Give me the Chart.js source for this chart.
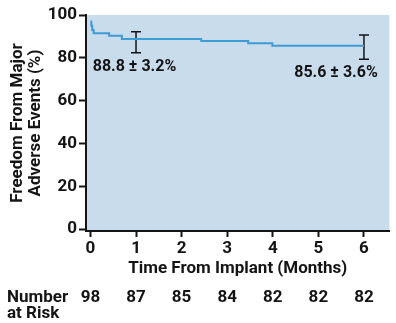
<!DOCTYPE html>
<html>
<head>
<meta charset="utf-8">
<script src="https://cdn.jsdelivr.net/npm/chart.js@4"></script>
<style>
  body { margin: 0; background: #fff; }
  #wrap { width: 396px; height: 323px; position: relative; }
</style>
</head>
<body>
<div id="wrap"><canvas id="km-chart"></canvas></div>
<script>
// Kaplan-Meier curve
const kmTime = [0, 0.02, 0.04, 0.07, 0.41, 0.69, 2.43, 3.46, 3.99, 6]
const kmFreedom = [97, 95, 93, 91.5, 90.3, 88.8, 87.8, 86.8, 85.6, 85.6]

// error bars (as drawn) at 1 and 6 months
const barTime = [1, 6]
const barLow = [82.4, 79.3]
const barHigh = [92.2, 90.7]

// estimates printed next to the bars
const estText = ['88.8 ± 3.2%', '85.6 ± 3.6%']
const estTime = [0.05, 4.47]
const estValue = [75.8, 72.7]

const xTicks = [0, 1, 2, 3, 4, 5, 6]
const yTicks = [0, 20, 40, 60, 80, 100]

const riskTime = [0, 1, 2, 3, 4, 5, 6]
const riskCount = [98, 87, 85, 84, 82, 82, 82]

const FONT = 'Roboto, "Liberation Sans", sans-serif'
const INK = '#141414'

var datasets = [{
  data: kmTime.map((t, i) => ({ x: t, y: kmFreedom[i] })),
  borderColor: '#3f9bd6',
  borderWidth: 2,
  stepped: true,
  pointRadius: 0
}]
barTime.forEach(function (t, i) {
  datasets.push({
    data: [{ x: t, y: barLow[i] }, { x: t, y: barHigh[i] }],
    borderColor: INK,
    borderWidth: 1.5,
    pointStyle: 'line',
    pointRadius: 5,
    pointBorderWidth: 1.5,
    pointBorderColor: INK
  })
})

// light blue plot background + text labels and risk table
const extras = {
  id: 'extras',
  beforeDraw(chart) {
    const a = chart.chartArea
    const c = chart.ctx
    c.save()
    c.fillStyle = '#c9dcec'
    c.fillRect(a.left, a.top, a.right - a.left, a.bottom - a.top)
    c.restore()
  },
  afterDraw(chart) {
    const c = chart.ctx
    const xs = chart.scales.x
    const ys = chart.scales.y
    c.save()
    c.fillStyle = INK
    c.font = 'bold 16px ' + FONT
    c.textAlign = 'left'
    c.textBaseline = 'middle'
    estText.forEach(function (txt, i) {
      c.fillText(txt, xs.getPixelForValue(estTime[i]), ys.getPixelForValue(estValue[i]))
    })

    c.font = 'bold 17px ' + FONT
    c.textBaseline = 'alphabetic'
    c.fillText('Number', 7, 302)
    c.fillText('at Risk', 7, 318)
    c.textAlign = 'center'
    riskTime.forEach(function (t, i) {
      c.fillText(String(riskCount[i]), xs.getPixelForValue(t), 302)
    })
    c.restore()
  }
}

new Chart(document.querySelector('#km-chart'), {
  type: 'line',
  data: { datasets: datasets },
  plugins: [extras],
  options: {
    responsive: true,
    maintainAspectRatio: false,
    animation: false,
    layout: { padding: { top: 15, right: 0, bottom: 42, left: 0 } },
    plugins: { legend: { display: false }, tooltip: { enabled: false } },
    scales: {
      x: {
        type: 'linear',
        min: -0.097,
        max: 6.56,
        afterBuildTicks: function (s) { s.ticks = xTicks.map(v => ({ value: v })) },
        afterFit: function (s) { s.height = 50 },
        grid: { drawOnChartArea: false, tickLength: 6, tickWidth: 2, tickColor: INK },
        border: { color: INK, width: 2 },
        ticks: { color: INK, padding: 2, font: { family: FONT, size: 17, weight: 'bold' } },
        title: {
          display: true,
          text: 'Time From Implant (Months)',
          color: INK,
          padding: { top: 0, bottom: 3 },
          font: { family: FONT, size: 17, weight: 'bold', lineHeight: '18px' }
        }
      },
      y: {
        min: -0.9,
        max: 100,
        afterBuildTicks: function (s) { s.ticks = yTicks.map(v => ({ value: v })) },
        afterFit: function (s) { s.width = 86 },
        grid: { drawOnChartArea: false, tickLength: 7, tickWidth: 2, tickColor: INK },
        border: { color: INK, width: 2 },
        ticks: { color: INK, padding: 2, font: { family: FONT, size: 17, weight: 'bold' } },
        title: {
          display: true,
          text: ['Freedom From Major', 'Adverse Events (%)'],
          color: INK,
          padding: { top: 9, bottom: 0 },
          font: { family: FONT, size: 17, weight: 'bold', lineHeight: '18px' }
        }
      }
    }
  }
})
</script>
</body>
</html>
